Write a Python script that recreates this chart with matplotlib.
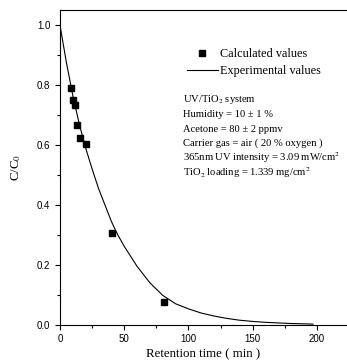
import matplotlib
matplotlib.use('Agg')
import matplotlib.pyplot as plt
from matplotlib.ticker import MultipleLocator
from matplotlib.lines import Line2D

plt.rcParams['font.family'] = ['Liberation Sans', 'DejaVu Sans']
plt.rcParams['mathtext.fontset'] = 'stix'

# calculated values (squares)
calc_t = [8.6, 10.2, 11.7, 13.5, 15.9, 20.3, 40.6, 81.2]
calc_c = [0.79, 0.75, 0.734, 0.666, 0.625, 0.604, 0.307, 0.076]

# experimental curve
exp_t = [0, 5, 10, 15, 20, 25, 30, 35, 40, 45, 50, 60, 70, 80, 90, 100,
         110, 120, 130, 140, 150, 160, 170, 180, 190, 197]
exp_c = [1.0, 0.875, 0.765, 0.67, 0.59, 0.52, 0.455, 0.40, 0.345, 0.30, 0.262,
         0.195, 0.14, 0.098, 0.07, 0.053, 0.039, 0.029, 0.021, 0.015, 0.011,
         0.008, 0.006, 0.004, 0.003, 0.002]

info_lines = [
    'UV/TiO$_2$ system',
    'Humidity = 10 ± 1 %',
    'Acetone = 80 ± 2 ppmv',
    'Carrier gas = air ( 20 % oxygen )',
    '365nm UV intensity = 3.09 mW/cm$^2$',
    'TiO$_2$ loading = 1.339 mg/cm$^2$',
]

serif = 'Liberation Serif'

W, H = 347, 360
fig = plt.figure(figsize=(W / 100, H / 100), dpi=100, facecolor='white')
ax = fig.add_axes([0.173, 0.098, 0.827, 0.873])

ax.plot(exp_t, exp_c, color='black', linewidth=0.8)
ax.plot(calc_t, calc_c, 's', color='black', markersize=3.9)

ax.set_xlim(0, 223.5)
ax.set_ylim(0, 1.05)
ax.xaxis.set_major_locator(MultipleLocator(50))
ax.xaxis.set_minor_locator(MultipleLocator(25))
ax.yaxis.set_major_locator(MultipleLocator(0.2))
ax.yaxis.set_minor_locator(MultipleLocator(0.1))
ax.tick_params(which='major', direction='out', length=3.5, width=0.8,
               labelsize=7, top=False, right=False)
ax.tick_params(which='minor', direction='out', length=2, width=0.8,
               top=False, right=False)
for s in ax.spines.values():
    s.set_linewidth(0.8)
ax.spines['right'].set_visible(False)

ax.set_xlabel('Retention time ( min )', fontfamily=serif, fontsize=9.3, labelpad=3)
ax.set_ylabel('C/C$_0$', fontfamily=serif, fontsize=9.3, labelpad=10)

handles = [
    Line2D([], [], marker='s', color='black', linestyle='none', markersize=3.9),
    Line2D([], [], color='black', linewidth=0.8),
]
ax.legend(handles, ['Calculated values', 'Experimental values'],
          loc='center left', bbox_to_anchor=(186.7 / W, 1 - 62.8 / H),
          bbox_transform=fig.transFigure, frameon=False,
          prop={'family': serif, 'size': 8.8}, handlelength=2.55,
          handletextpad=0.2, labelspacing=0.38, borderpad=0, borderaxespad=0)

for i, line in enumerate(info_lines):
    y = 100.0 + i * 14.5
    fig.text(183.0 / W, 1 - y / H, line, fontfamily=serif, fontsize=7.6,
             va='center', ha='left')

fig.savefig('out.png', dpi=100, facecolor='white')
